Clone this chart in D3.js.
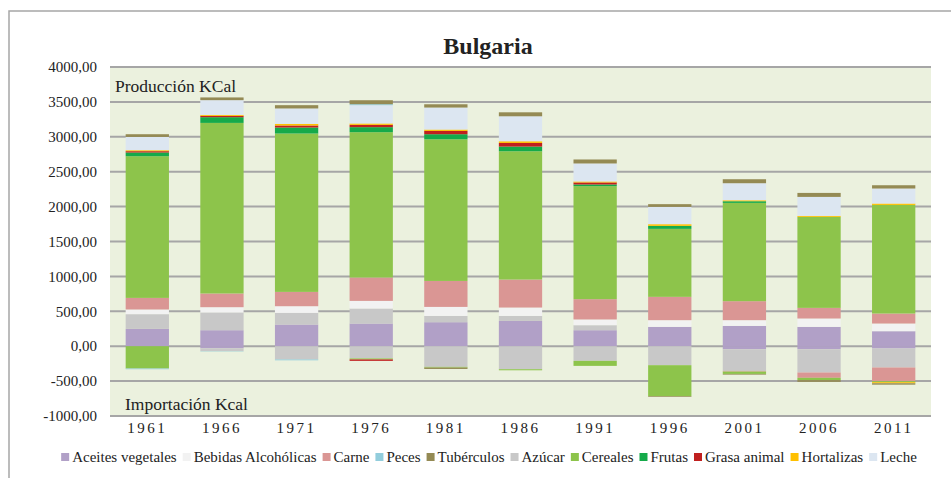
<!DOCTYPE html>
<meta charset="utf-8">
<style>
  body { margin: 0; background: #fff; }
  text { font-family: "Liberation Serif", "Times New Roman", serif; fill: #222; }
</style>
<svg width="951" height="478"></svg>
<script src="https://cdn.jsdelivr.net/npm/d3@7"></script>
<script>

var svg = d3.select("svg"),
    width = 951,
    height = 478;

var years = ["1961", "1966", "1971", "1976", "1981", "1986", "1991", "1996", "2001", "2006", "2011"];

// series in stacking order (alphabetical, as the chart stacks them)
var names = ["Aceites vegetales", "Azúcar", "Bebidas Alcohólicas", "Carne", "Cereales", "Frutas",
             "Grasa animal", "Hortalizas", "Leche", "Peces", "Tubérculos"];
var colors = ["#b1a0c7", "#c8c8c8", "#f2f2f2", "#da9694", "#8dc44b", "#15aa4a",
              "#c0201f", "#ffc000", "#dce6f1", "#92cddc", "#948a54"];
var legendOrder = ["Aceites vegetales", "Bebidas Alcohólicas", "Carne", "Peces", "Tubérculos",
                   "Azúcar", "Cereales", "Frutas", "Grasa animal", "Hortalizas", "Leche"];

// production (kcal)
var prodAceites    = [248, 229, 311, 325, 344, 362, 229, 277, 291, 277, 215];
var prodAzucar     = [211, 254, 166, 215, 90, 72, 72, 0, 0, 0, 0];
var prodBebidas    = [67, 76, 96, 109, 129, 120, 82, 96, 82, 120, 110];
var prodCarne      = [166, 196, 205, 335, 372, 401, 291, 334, 272, 152, 143];
var prodCereales   = [2030, 2444, 2269, 2082, 2030, 1838, 1619, 974, 1408, 1304, 1556];
var prodFrutas     = [53, 82, 86, 72, 72, 67, 24, 43, 24, 0, 0];
var prodGrasa      = [19, 19, 29, 33, 47, 52, 29, 0, 0, 0, 0];
var prodHortalizas = [14, 14, 23, 20, 20, 24, 14, 24, 14, 14, 20];
var prodLeche      = [190, 211, 221, 262, 315, 358, 258, 248, 244, 272, 215];
var prodPeces      = [0, 0, 0, 14, 0, 0, 0, 0, 0, 0, 0];
var prodTuberculos = [39, 39, 47, 57, 47, 57, 57, 39, 57, 57, 47];

// imports (kcal, negative)
var impAceites    = [0, -30, 0, 0, 0, 0, 0, 0, -43, -43, -33];
var impAzucar     = [0, -40, -190, -175, -296, -330, -210, -272, -311, -334, -272];
var impBebidas    = [0, 0, 0, 0, 0, 0, 0, 0, 0, 0, 0];
var impCarne      = [0, 0, 0, 0, 0, 0, 0, 0, -10, -76, -196];
var impCereales   = [-320, 0, 0, -15, -10, -15, -72, -444, -33, -33, -15];
var impFrutas     = [0, 0, 0, 0, 0, 0, 0, 0, 0, 0, 0];
var impGrasa      = [0, 0, 0, -20, 0, 0, 0, 0, 0, 0, 0];
var impHortalizas = [0, 0, 0, 0, 0, 0, 0, 0, 0, 0, -15];
var impLeche      = [0, 0, 0, 0, 0, 0, 0, 0, 0, 0, 0];
var impPeces      = [-10, -5, -12, 0, 0, 0, 0, 0, 0, 0, 0];
var impTuberculos = [0, 0, 0, 0, -20, 0, 0, -10, -10, -25, -20];

var prod = [prodAceites, prodAzucar, prodBebidas, prodCarne, prodCereales, prodFrutas,
            prodGrasa, prodHortalizas, prodLeche, prodPeces, prodTuberculos];
var imp = [impAceites, impAzucar, impBebidas, impCarne, impCereales, impFrutas,
           impGrasa, impHortalizas, impLeche, impPeces, impTuberculos];

var yTicks = [-1000, -500, 0, 500, 1000, 1500, 2000, 2500, 3000, 3500, 4000];

// table for d3.stack: one key per series for production and one for import
var keys = [];
names.forEach(function(n) { keys.push(n + "|p"); keys.push(n + "|i"); });
var table = years.map(function(y, j) {
  var row = { year: y };
  names.forEach(function(n, i) {
    row[n + "|p"] = prod[i][j];
    row[n + "|i"] = imp[i][j];
  });
  return row;
});

var stacked = d3.stack().keys(keys).offset(d3.stackOffsetDiverging)(table);

var plot = { left: 110, right: 931, top: 67, bottom: 416 };

var x = d3.scaleBand().domain(years)
    .range([plot.left, plot.right])
    .paddingInner(0.42).paddingOuter(0.21);
var y = d3.scaleLinear().domain([-1000, 4000]).range([plot.bottom, plot.top]);
var color = d3.scaleOrdinal().domain(names).range(colors);

// outer frame
svg.append("rect")
    .attr("x", 9).attr("y", 11)
    .attr("width", 960).attr("height", 490)
    .attr("fill", "#fff").attr("stroke", "#a6a6a6").attr("stroke-width", 1.5);

// plot background
svg.append("rect")
    .attr("x", plot.left).attr("y", plot.top)
    .attr("width", plot.right - plot.left).attr("height", plot.bottom - plot.top)
    .attr("fill", "#ebf1de");

// gridlines
svg.append("g")
  .selectAll("line")
  .data(yTicks)
  .join("line")
    .attr("x1", plot.left).attr("x2", plot.right)
    .attr("y1", function(d) { return y(d); }).attr("y2", function(d) { return y(d); })
    .attr("stroke", "#a6a6a6").attr("stroke-width", 2);

// y labels
svg.append("g")
  .selectAll("text")
  .data(yTicks)
  .join("text")
    .attr("x", 97)
    .attr("y", function(d) { return y(d); })
    .attr("dy", "0.35em")
    .attr("text-anchor", "end")
    .style("font-size", "15px")
    .text(function(d) { return d.toFixed(2).replace(".", ","); });

// bars
svg.append("g")
  .selectAll("g")
  .data(stacked)
  .join("g")
    .attr("fill", function(d) { return color(d.key.split("|")[0]); })
  .selectAll("rect")
  .data(function(d) { return d; })
  .join("rect")
    .attr("x", function(d) { return x(d.data.year); })
    .attr("width", x.bandwidth())
    .attr("y", function(d) { return y(Math.max(d[0], d[1])); })
    .attr("height", function(d) { return Math.abs(y(d[0]) - y(d[1])); });

// x labels
svg.append("g")
  .selectAll("text")
  .data(years)
  .join("text")
    .attr("x", function(d) { return x(d) + x.bandwidth() / 2; })
    .attr("y", 433)
    .attr("text-anchor", "middle")
    .style("font-size", "15px")
    .style("letter-spacing", "2.5px")
    .text(function(d) { return d; });

// title and in-plot labels
svg.append("text")
    .attr("x", 488).attr("y", 54)
    .attr("text-anchor", "middle")
    .style("font-size", "24px").style("font-weight", "bold")
    .text("Bulgaria");

svg.append("text")
    .attr("x", 115).attr("y", 92)
    .style("font-size", "17.5px")
    .text("Producción KCal");

svg.append("text")
    .attr("x", 125).attr("y", 410)
    .style("font-size", "17.5px")
    .text("Importación Kcal");

// legend
var legend = svg.append("g");
var items = legend.selectAll("g")
  .data(legendOrder)
  .join("g");
items.append("rect")
    .attr("width", 8).attr("height", 8)
    .attr("y", -4)
    .attr("fill", function(d) { return color(d); });
items.append("text")
    .attr("x", 11)
    .attr("dy", "0.35em")
    .style("font-size", "15px")
    .text(function(d) { return d; });

var pos = 0;
items.each(function() {
  var w = 11 + d3.select(this).select("text").node().getComputedTextLength();
  d3.select(this).attr("transform", "translate(" + pos + ",0)");
  pos += w + 6;
});
pos -= 6;
legend.attr("transform", "translate(" + (489 - pos / 2) + ",457)");

</script>
